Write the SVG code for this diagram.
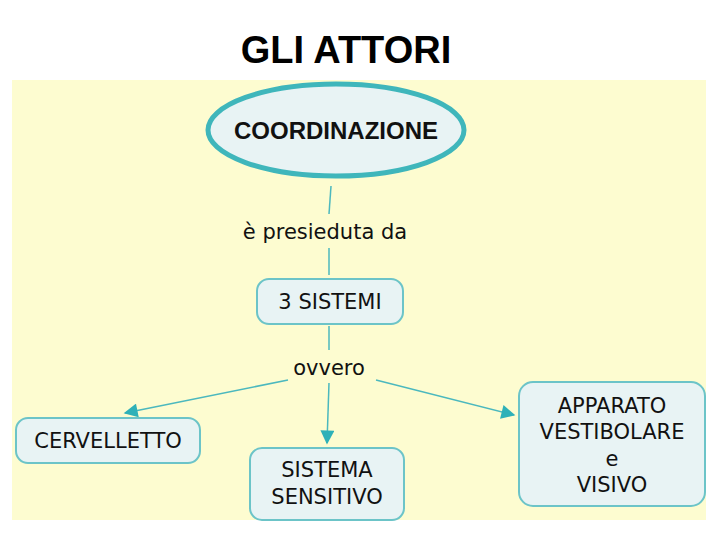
<svg xmlns="http://www.w3.org/2000/svg" width="720" height="540" viewBox="0 0 720 540">
<defs>
<style>
.box{fill:#e8f3f4;stroke:#6cc4c8;stroke-width:2}
.t{font-family:"DejaVu Sans",Verdana,sans-serif;font-size:21px;fill:#111;text-anchor:middle}
.c{stroke:#4bb8be;stroke-width:1.5;fill:none}
</style>
<marker id="a" viewBox="0 0 10 10" refX="9" refY="5" markerWidth="16" markerHeight="14" markerUnits="userSpaceOnUse" orient="auto"><path d="M0,0L10,5L0,10z" fill="#2eb1b8"/></marker>
</defs>
<rect width="720" height="540" fill="#fff"/>
<text x="346" y="63" font-family="Liberation Sans,Arial,sans-serif" font-size="38" font-weight="bold" text-anchor="middle" fill="#000">GLI ATTORI</text>
<rect x="12" y="80" width="694" height="440" fill="#fdfcd0"/>
<g id="connectors">
<path class="c" d="M331,186L329,214"/>
<path class="c" d="M329,248L329,275"/>
<path class="c" d="M329,326L329,350"/>
<path class="c" d="M288,380L125,413" marker-end="url(#a)"/>
<path class="c" d="M329,383L327,443" marker-end="url(#a)"/>
<path class="c" d="M376,380L514,415" marker-end="url(#a)"/>
</g>
<g id="coordinazione"><ellipse cx="336" cy="130" rx="128" ry="46" fill="#e8f3f4" stroke="#3fb6bb" stroke-width="5"/><text class="t" x="336" y="139" font-weight="bold" style="font-family:'Liberation Sans',Arial,sans-serif;font-size:24px">COORDINAZIONE</text></g>
<g id="lbl1"><text class="t" x="325" y="239">è presieduta da</text></g>
<g id="sistemi"><rect class="box" x="257" y="279" width="146" height="45" rx="12"/><text class="t" x="330" y="309">3 SISTEMI</text></g>
<g id="lbl2"><text class="t" x="329" y="375">ovvero</text></g>
<g id="cervelletto"><rect class="box" x="16" y="418" width="184" height="45" rx="12"/><text class="t" x="108" y="448">CERVELLETTO</text></g>
<g id="sensitivo"><rect class="box" x="250" y="448" width="154" height="72" rx="12"/><text class="t" x="327" y="477">SISTEMA</text><text class="t" x="327" y="504">SENSITIVO</text></g>
<g id="apparato"><rect class="box" x="519" y="382" width="186" height="124" rx="14"/><text class="t" x="612" y="413">APPARATO</text><text class="t" x="612" y="439">VESTIBOLARE</text><text class="t" x="612" y="466">e</text><text class="t" x="612" y="492">VISIVO</text></g>
</svg>
